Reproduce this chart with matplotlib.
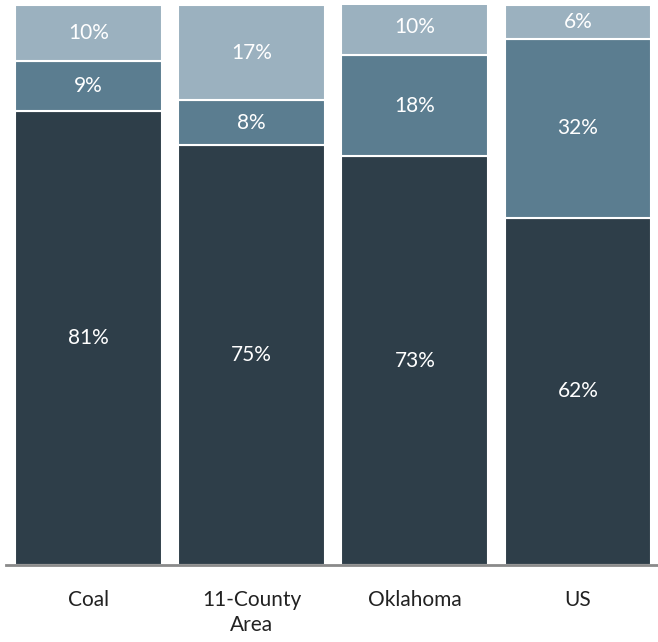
import numpy as np
import matplotlib.pyplot as plt

plt.rcParams['font.family'] = ['Lato', 'DejaVu Sans']

# Data
categories = ["Coal", "11-County\nArea", "Oklahoma", "US"]
dark = [81, 75, 73, 62]
medium = [9, 8, 18, 32]
light = [10, 17, 10, 6]

colors = ["#2e3e49", "#5b7d90", "#9bb1bf"]

fig = plt.figure(figsize=(6.58, 6.42), dpi=100)
ax = fig.add_axes([6 / 658, 1 - 565 / 642, 652 / 658, 560 / 642])

x = np.arange(len(categories))
bottom = np.zeros(len(categories))
for vals, c in zip([dark, medium, light], colors):
    vals = np.array(vals)
    ax.bar(x, vals, bottom=bottom, width=0.9, color=c, edgecolor="white", linewidth=1.5)
    for xi, b, v in zip(x, bottom, vals):
        ax.text(xi, b + v / 2, f"{v}%", ha="center", va="center",
                color="white", fontsize=15)
    bottom += vals

ax.set_xlim(-0.506, 3.49)
ax.set_ylim(0, 100)
for s in ["top", "right", "left"]:
    ax.spines[s].set_visible(False)
ax.spines["bottom"].set_color("#8a8a8a")
ax.spines["bottom"].set_linewidth(2)
ax.set_yticks([])
ax.set_xticks(x)
ax.set_xticklabels(categories, fontsize=15, color="#222222", linespacing=1.3)
ax.tick_params(axis="x", length=0, pad=18)

fig.savefig("out.png", dpi=100)
